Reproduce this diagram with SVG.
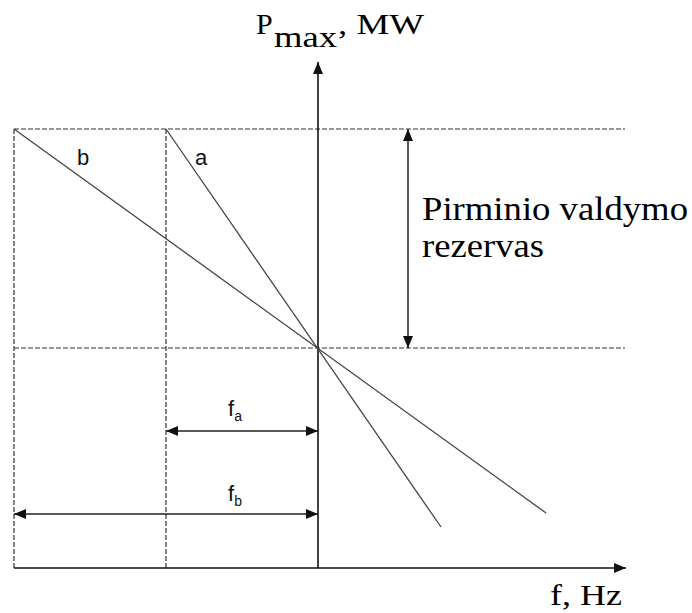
<svg xmlns="http://www.w3.org/2000/svg" width="692" height="613" viewBox="0 0 692 613">
<defs>
<marker id="ah" viewBox="0 0 12 10" refX="12" refY="5" markerWidth="12" markerHeight="10" markerUnits="userSpaceOnUse" orient="auto-start-reverse">
<path d="M0,0 L12,5 L0,10 Z" fill="#111"/>
</marker>
<style>
.dash{stroke:#333;stroke-width:1.2;stroke-dasharray:5,2;fill:none}
.axis{stroke:#111;stroke-width:1.6;fill:none}
.dim{stroke:#222;stroke-width:1.5;fill:none}
.slope{stroke:#444;stroke-width:1.3;fill:none}
</style>
</defs>
<rect width="692" height="613" fill="#fff"/>
<g id="grid">
<line class="dash" x1="14" y1="129" x2="625" y2="129"/>
<line class="dash" x1="14" y1="348" x2="625" y2="348"/>
<line class="dash" x1="14" y1="129" x2="14" y2="568"/>
<line class="dash" x1="166" y1="129" x2="166" y2="568"/>
</g>
<g id="axes">
<line class="axis" x1="318" y1="568" x2="318" y2="62" marker-end="url(#ah)"/>
<line class="axis" x1="14" y1="568" x2="626" y2="568" marker-end="url(#ah)"/>
</g>
<g id="connectors">
<line class="slope" x1="14" y1="129" x2="546" y2="513"/>
<line class="slope" x1="166" y1="129" x2="441" y2="527"/>
<line class="dim" x1="408" y1="129" x2="408" y2="348" marker-start="url(#ah)" marker-end="url(#ah)"/>
<line class="dim" x1="166" y1="431" x2="318" y2="431" marker-start="url(#ah)" marker-end="url(#ah)"/>
<line class="dim" x1="14" y1="514" x2="318" y2="514" marker-start="url(#ah)" marker-end="url(#ah)"/>
</g>
<g font-family="'Liberation Sans', Arial, sans-serif" fill="#111">
<g id="label-b"><text x="77" y="165" font-size="22">b</text></g>
<g id="label-a"><text x="195" y="165" font-size="22">a</text></g>
<g id="label-fa"><text x="228" y="416" font-size="22">f<tspan font-size="14" dy="5">a</tspan></text></g>
<g id="label-fb"><text x="228" y="501" font-size="22">f<tspan font-size="14" dy="5">b</tspan></text></g>
</g>
<g font-family="'Liberation Serif', 'DejaVu Serif', 'Times New Roman', serif" fill="#000">
<g id="label-reserve">
<text x="422" y="220" font-size="33" textLength="266" lengthAdjust="spacingAndGlyphs">Pirminio valdymo</text>
<text x="422" y="257" font-size="33" textLength="122" lengthAdjust="spacingAndGlyphs">rezervas</text>
</g>
<g id="label-y">
<text x="256" y="34" font-size="30">P</text>
<text x="274" y="47" font-size="30" textLength="63" lengthAdjust="spacingAndGlyphs">max</text>
<text x="338" y="34" font-size="30" textLength="86" lengthAdjust="spacingAndGlyphs">, MW</text>
</g>
<g id="label-x"><text x="550" y="605" font-size="30" textLength="72" lengthAdjust="spacingAndGlyphs">f, Hz</text></g>
</g>
</svg>
